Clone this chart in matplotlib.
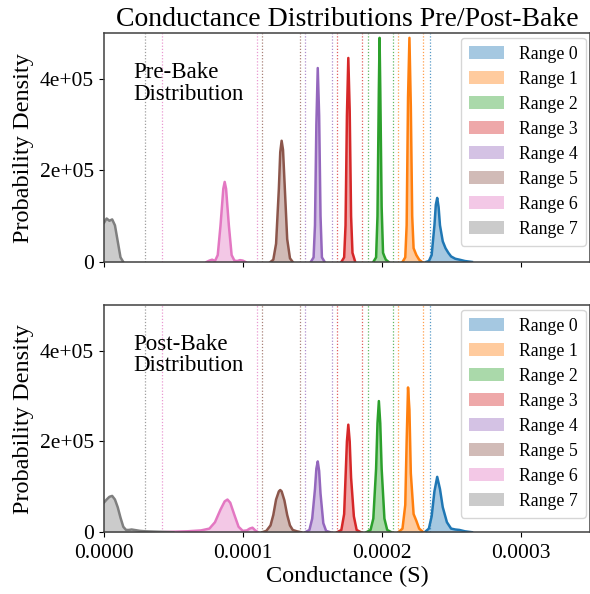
import matplotlib
matplotlib.use("Agg")
import matplotlib.pyplot as plt
from matplotlib.patches import Patch
from matplotlib.ticker import FuncFormatter

plt.rcParams["font.family"] = ["Liberation Serif", "DejaVu Serif"]

# conductance in units of 1e-4 S, density in units of 1e5
RANGES = ["Range 0", "Range 1", "Range 2", "Range 3",
          "Range 4", "Range 5", "Range 6", "Range 7"]
COLORS = ["#1f77b4", "#ff7f0e", "#2ca02c", "#d62728",
          "#9467bd", "#8c564b", "#e377c2", "#7f7f7f"]

pre_x = {
    "Range 0": [2.32, 2.34, 2.36, 2.38, 2.39, 2.40, 2.41, 2.42, 2.44, 2.46, 2.48, 2.50, 2.53, 2.56, 2.60, 2.65],
    "Range 1": [2.15, 2.17, 2.18, 2.19, 2.20, 2.21, 2.22, 2.23, 2.25, 2.27, 2.29],
    "Range 2": [1.94, 1.96, 1.97, 1.98, 1.985, 1.99, 2.00, 2.01, 2.02, 2.03, 2.05],
    "Range 3": [1.71, 1.73, 1.74, 1.75, 1.76, 1.77, 1.78, 1.79, 1.81],
    "Range 4": [1.49, 1.51, 1.52, 1.53, 1.54, 1.55, 1.56, 1.57, 1.59],
    "Range 5": [1.20, 1.22, 1.24, 1.26, 1.27, 1.28, 1.29, 1.30, 1.32, 1.34, 1.36],
    "Range 6": [0.74, 0.76, 0.78, 0.80, 0.82, 0.84, 0.86, 0.87, 0.88, 0.90, 0.92, 0.94, 0.96, 0.98, 1.00, 1.02],
    "Range 7": [-0.02, 0.00, 0.02, 0.04, 0.06, 0.08, 0.10, 0.12, 0.14],
}
pre_y = {
    "Range 0": [0, 0.02, 0.15, 0.8, 1.25, 1.4, 1.2, 0.8, 0.45, 0.3, 0.2, 0.12, 0.07, 0.05, 0.02, 0],
    "Range 1": [0, 0.1, 0.8, 3.6, 4.9, 3.4, 1.0, 0.3, 0.15, 0.05, 0],
    "Range 2": [0, 0.1, 1.0, 3.8, 4.9, 3.8, 1.2, 0.2, 0.12, 0.05, 0],
    "Range 3": [0, 0.1, 0.8, 3.2, 4.46, 3.3, 1.0, 0.2, 0],
    "Range 4": [0, 0.1, 0.8, 3.0, 4.24, 3.2, 1.0, 0.1, 0],
    "Range 5": [0, 0.05, 0.4, 1.6, 2.4, 2.65, 2.45, 1.8, 0.5, 0.08, 0],
    "Range 6": [0.0, 0.03, 0.05, 0.02, 0.15, 0.8, 1.6, 1.75, 1.6, 0.8, 0.15, 0.03, 0.02, 0.04, 0.03, 0.0],
    "Range 7": [0.8, 0.85, 0.95, 0.90, 0.93, 0.80, 0.45, 0.10, 0.0],
}

post_x = {
    "Range 0": [2.31, 2.34, 2.36, 2.38, 2.40, 2.42, 2.44, 2.47, 2.50, 2.53, 2.56, 2.60, 2.65],
    "Range 1": [2.12, 2.15, 2.17, 2.18, 2.19, 2.20, 2.21, 2.23, 2.25, 2.27, 2.30],
    "Range 2": [1.89, 1.92, 1.94, 1.96, 1.97, 1.98, 1.99, 2.00, 2.02, 2.04, 2.07],
    "Range 3": [1.68, 1.71, 1.73, 1.74, 1.75, 1.76, 1.77, 1.78, 1.80, 1.82, 1.85],
    "Range 4": [1.45, 1.48, 1.50, 1.52, 1.53, 1.54, 1.55, 1.56, 1.58, 1.60, 1.63],
    "Range 5": [1.14, 1.17, 1.20, 1.22, 1.24, 1.26, 1.27, 1.28, 1.30, 1.32, 1.34, 1.36, 1.39, 1.42],
    "Range 6": [0.40, 0.50, 0.60, 0.70, 0.76, 0.80, 0.84, 0.87, 0.89, 0.91, 0.94, 0.97, 1.00, 1.03, 1.05, 1.07, 1.09, 1.11],
    "Range 7": [-0.02, 0.0, 0.02, 0.04, 0.06, 0.08, 0.10, 0.12, 0.14, 0.16, 0.18, 0.20, 0.22, 0.26, 0.30, 0.40, 0.50],
}
post_y = {
    "Range 0": [0, 0.08, 0.35, 0.9, 1.22, 0.95, 0.55, 0.22, 0.08, 0.06, 0.05, 0.02, 0],
    "Range 1": [0, 0.08, 0.6, 2.0, 3.19, 2.7, 1.3, 0.4, 0.25, 0.08, 0],
    "Range 2": [0, 0.05, 0.3, 1.4, 2.4, 2.89, 2.4, 1.4, 0.3, 0.05, 0],
    "Range 3": [0, 0.05, 0.4, 1.2, 2.0, 2.37, 2.0, 1.2, 0.35, 0.05, 0],
    "Range 4": [0, 0.05, 0.3, 0.95, 1.4, 1.56, 1.35, 0.85, 0.2, 0.03, 0],
    "Range 5": [0.0, 0.03, 0.15, 0.38, 0.72, 0.9, 0.93, 0.9, 0.7, 0.38, 0.15, 0.05, 0.02, 0.0],
    "Range 6": [0.0, 0.01, 0.02, 0.04, 0.08, 0.22, 0.5, 0.68, 0.72, 0.65, 0.38, 0.12, 0.03, 0.04, 0.08, 0.1, 0.04, 0.0],
    "Range 7": [0.6, 0.65, 0.72, 0.78, 0.8, 0.72, 0.55, 0.32, 0.12, 0.05, 0.05, 0.06, 0.05, 0.03, 0.02, 0.01, 0.0],
}

# range boundaries (1e-4 S), drawn in the colour of their range
bounds = {
    "Range 0": [2.35],
    "Range 1": [2.12, 2.30],
    "Range 2": [1.90, 2.08],
    "Range 3": [1.68, 1.86],
    "Range 4": [1.446, 1.64],
    "Range 5": [1.136, 1.41],
    "Range 6": [0.417, 1.10],
    "Range 7": [0.295],
}

fig = plt.figure(figsize=(5.9, 5.94), dpi=100)
ax1 = fig.add_axes([0.176, 0.559, 0.824, 0.385])
ax2 = fig.add_axes([0.176, 0.104, 0.824, 0.382], sharex=ax1, sharey=ax1)


def draw_panel(ax, xs, ys, label):
    for name, color in zip(RANGES, COLORS):
        x = [v * 1e-4 for v in xs[name]]
        y = [v * 1e5 for v in ys[name]]
        ax.fill_between(x, y, color=color, alpha=0.4, lw=0)
        ax.plot(x, y, color=color, lw=1.8)
        for b in bounds[name]:
            ax.axvline(b * 1e-4, color=color, ls=(0, (1, 1.5)), lw=0.9, alpha=0.75)
    ax.text(0.06, 0.875, label, transform=ax.transAxes, va="top", ha="left",
            fontsize=16.5, linespacing=1.05)
    handles = [Patch(facecolor=c, edgecolor="none", alpha=0.4, label=n)
               for n, c in zip(RANGES, COLORS)]
    ax.legend(handles=handles, loc="upper right", fontsize=12.8,
              labelspacing=0.45, handlelength=2.0, borderpad=0.45,
              borderaxespad=0.25, framealpha=0.8)
    ax.set_ylabel("Probability Density", fontsize=17.5)
    ax.tick_params(labelsize=15.5)
    for sp in ax.spines.values():
        sp.set_color("0.25")
        sp.set_linewidth(1.1)


draw_panel(ax1, pre_x, pre_y, "Pre-Bake\nDistribution")
draw_panel(ax2, post_x, post_y, "Post-Bake\nDistribution")

ax1.set_xlim(0, 0.00035)
ax1.set_ylim(0, 5e5)
ax1.set_xticks([0, 0.0001, 0.0002, 0.0003])
ax1.set_yticks([0, 2e5, 4e5])
ax1.yaxis.set_major_formatter(FuncFormatter(lambda v, p: "0" if v == 0 else f"{v:.0e}"))
ax2.xaxis.set_major_formatter(FuncFormatter(lambda v, p: f"{v:.4f}"))
ax2.tick_params(axis="x", pad=5)
plt.setp(ax1.get_xticklabels(), visible=False)

ax1.set_title("Conductance Distributions Pre/Post-Bake", fontsize=20, pad=5)
ax2.set_xlabel("Conductance (S)", fontsize=17.5, labelpad=2)

fig.savefig("out.png", dpi=100)
